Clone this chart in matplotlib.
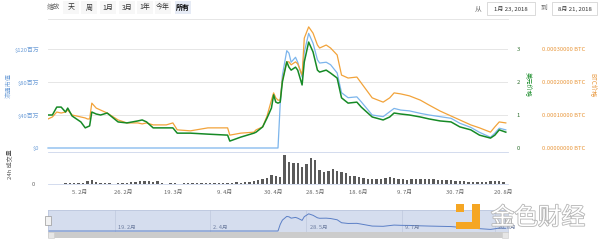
import matplotlib.pyplot as plt
import matplotlib.patheffects as pe
from matplotlib.patches import Rectangle

plt.rcParams['font.family'] = ['Noto Sans CJK SC', 'DejaVu Sans']

# ---- data ----
# day number counted from 23 Jan 2018
DAYS = [0, 2, 4, 6, 8, 9, 11, 15, 17, 18, 19, 20, 22, 24, 27, 32, 36, 41, 43, 45,
        48, 54, 57, 59, 65, 73, 82, 83, 88, 94, 95, 98, 100, 102, 103, 104, 105, 106, 107, 109,
        110, 111, 113, 114, 116, 117, 119, 121, 123, 124, 127, 129, 132, 134, 137, 141, 143, 148, 153, 156,
        158, 161, 165, 170, 174, 179, 184, 188, 193, 197, 202, 204, 206, 209]

USD_PRICE = [1.00, 1.00, 1.24, 1.24, 1.09, 1.21, 0.97, 0.79, 0.61, 0.64, 0.67, 1.09, 1.03, 1.00, 1.06, 0.79, 0.76, 0.82, 0.85, 0.79,
             0.61, 0.61, 0.61, 0.45, 0.45, 0.42, 0.39, 0.21, 0.33, 0.45, 0.48, 0.64, 0.91, 1.21, 1.61, 1.39, 1.36, 1.39, 2.00, 2.61,
             2.45, 2.36, 2.45, 2.36, 1.91, 2.61, 3.21, 2.91, 2.36, 2.30, 2.36, 2.27, 2.12, 1.52, 1.36, 1.39, 1.24, 0.94, 0.85, 0.94,
             1.06, 1.03, 1.00, 0.94, 0.88, 0.82, 0.79, 0.64, 0.55, 0.39, 0.30, 0.39, 0.55, 0.48]

BTC_PRICE = [0.000088, 0.000094, 0.000109, 0.000106, 0.000109, 0.000115, 0.000100, 0.000094, 0.000091, 0.000088,
             0.000088, 0.000136, 0.000121, 0.000115, 0.000106, 0.000085, 0.000076, 0.000076, 0.000073, 0.000076,
             0.000070, 0.000070, 0.000076, 0.000055, 0.000052, 0.000061, 0.000061, 0.000039, 0.000045, 0.000048,
             0.000055, 0.000064, 0.000097, 0.000145, 0.000167, 0.000152, 0.000145, 0.000145, 0.000206, 0.000261,
             0.000261, 0.000252, 0.000261, 0.000255, 0.000221, 0.000333, 0.000367, 0.000348, 0.000312, 0.000303,
             0.000312, 0.000303, 0.000282, 0.000221, 0.000212, 0.000215, 0.000197, 0.000152, 0.000139, 0.000152,
             0.000167, 0.000164, 0.000158, 0.000145, 0.000130, 0.000112, 0.000097, 0.000085, 0.000070, 0.000061,
             0.000048, 0.000064, 0.000079, 0.000076]

# 流通市值, 百万美元
MCAP = [0] * 37 + [53, 88, 118, 115, 104, 110, 104, 86, 116, 139, 127, 107, 103, 104, 101, 91, 67, 61, 62, 56,
                   40, 38, 44, 48, 46, 45, 42, 40, 38, 36, 30, 25, 19, 13, 18, 24, 22]

VOL_DAYS = list(range(0, 209, 2))
VOLUME = [0.5, 0.5, 0.3, 0.5, 0.8, 1, 1, 1.5, 1, 3,
          4, 2, 1.5, 1, 1, 0.5, 1, 1, 1.5, 2,
          2.5, 3.5, 3, 3, 2.5, 3, 1.5, 0.5, 1, 1,
          0.5, 1, 1, 1, 1, 1, 1, 1, 1, 1,
          1, 1, 1.5, 2, 1.5, 2, 2.5, 3, 4, 5,
          6, 9, 8, 7, 29, 22, 21, 21, 17, 20,
          26, 24, 14, 12, 13, 15, 13, 12, 11, 8,
          8, 7, 6, 5, 5, 5, 5, 6, 7, 6,
          5, 5, 4, 5, 5, 5, 5, 5, 5, 4,
          4, 4, 4, 3, 3, 3, 2.5, 2.5, 2, 2,
          2, 3, 3.5, 3, 2]

MCAP_TICKS = [0, 40, 80, 120]
MCAP_LABELS = ['$0', '$40百万', '$80百万', '$120百万']
USD_TICKS = [0, 1, 2, 3]
BTC_TICKS = [0, 0.0001, 0.0002, 0.0003]
BTC_LABELS = ['0.00000000 BTC', '0.00010000 BTC', '0.00020000 BTC', '0.00030000 BTC']
DATE_TICKS = [14.6, 34.2, 57.1, 80.8, 102.7, 121.9, 141.5, 163.0, 185.8, 207.7]
DATE_LABELS = ['5. 2月', '26. 2月', '19. 3月', '9. 4月', '30. 4月', '28. 5月', '18. 6月', '9. 7月', '30. 7月', '20. 8月']
NAV_TICKS = [30.6, 74.0, 118.0, 161.6, 204.0]
NAV_LABELS = ['19. 2月', '2. 4月', '28. 5月', '9. 7月', '20. 8月']
BUTTONS = ['天', '周', '1月', '3月', '1年', '今年', '所有']

BLUE = '#7cb5ec'
GREEN = '#168a26'
ORANGE = '#f2a33a'
GRID = '#e6e6e6'

W, H = 600, 242
fig = plt.figure(figsize=(6, 2.42), dpi=100)


def fx(px):
    return px / W


def fy(py):
    return 1 - py / H


# ---- main price panel ----
ax = fig.add_axes([fx(48), fy(148), fx(460), (148 - 19) / H])
ax.set_xlim(0, 210)
ax.set_ylim(0, 156.4)
ax.plot(DAYS, MCAP, color=BLUE, lw=0.9, clip_on=False, zorder=3)
ax.set_yticks(MCAP_TICKS)
ax.set_yticklabels(MCAP_LABELS)
ax.tick_params(axis='y', length=0, pad=6, labelsize=4.2, colors='#6f9fd8')
ax.set_xticks([])
for t in MCAP_TICKS[1:]:
    ax.axhline(t, color=GRID, lw=0.7, zorder=0)
for s in ['left', 'right', 'bottom']:
    ax.spines[s].set_visible(False)
ax.spines['top'].set_color(GRID)
ax.spines['top'].set_linewidth(0.7)

ax_btc = ax.twinx()
ax_btc.set_ylim(0, 3.909e-4)
ax_btc.plot(DAYS, BTC_PRICE, color=ORANGE, lw=0.9, zorder=3)
ax_btc.set_yticks(BTC_TICKS)
ax_btc.set_yticklabels(BTC_LABELS)
ax_btc.tick_params(axis='y', length=0, pad=24.5, labelsize=4.2, colors='#e8963a')
for s in ax_btc.spines.values():
    s.set_visible(False)

ax_usd = ax.twinx()
ax_usd.set_ylim(0, 3.909)
ax_usd.plot(DAYS, USD_PRICE, color=GREEN, lw=1.1, zorder=3)
ax_usd.set_yticks(USD_TICKS)
ax_usd.tick_params(axis='y', length=0, pad=6, labelsize=4.2, colors='#2d6e2d')
for s in ax_usd.spines.values():
    s.set_visible(False)

fig.text(fx(9), fy(85), '流通市值', rotation=90, ha='center', va='center', fontsize=4.5, color='#6f9fd8')
fig.text(fx(527), fy(85), '美元价格', rotation=270, ha='center', va='center', fontsize=4.5, color=GREEN)
fig.text(fx(592), fy(85), 'BTC价格', rotation=270, ha='center', va='center', fontsize=4.5, color='#e8963a')

# ---- volume panel ----
vax = fig.add_axes([fx(48), fy(184), fx(460), 32 / H])
vax.bar(VOL_DAYS, VOLUME, width=1.1, color='#5a5a5a', linewidth=0)
vax.set_xlim(0, 210)
vax.set_ylim(0, 32)
vax.set_yticks([0])
vax.tick_params(axis='y', length=0, pad=9, labelsize=4.2, colors='#666666')
vax.set_xticks(DATE_TICKS)
vax.set_xticklabels(DATE_LABELS)
vax.tick_params(axis='x', length=0, pad=4, labelsize=4.2, colors='#666666')
for s in ['left', 'right']:
    vax.spines[s].set_visible(False)
for s in ['top', 'bottom']:
    vax.spines[s].set_color('#ccd6eb')
    vax.spines[s].set_linewidth(0.6)
fig.text(fx(9), fy(164), '24h 成交量', rotation=90, ha='center', va='center', fontsize=4.3, color='#555555')

# ---- navigator ----
nax = fig.add_axes([fx(48), fy(232), fx(460), 22 / H])
nax.set_facecolor('#d5ddee')
nax.plot(DAYS, MCAP, color='#5b7fc6', lw=0.7)
nax.set_xlim(0, 210)
nax.set_ylim(-8, 170)
nax.set_xticks([])
nax.set_yticks([])
for t, lab in zip(NAV_TICKS, NAV_LABELS):
    nax.axvline(t, color='#c2cce0', lw=0.6, zorder=0)
    nax.text(t + 1.5, 30, lab, fontsize=4, color='#6b7b9e', va='center', ha='left')
for s in nax.spines.values():
    s.set_color('#b8c3da')
    s.set_linewidth(0.5)

# handles + scrollbar
for hx in (48, 508):
    fig.patches.append(Rectangle((fx(hx - 3), fy(225)), fx(6), 9 / H, transform=fig.transFigure,
                                 facecolor='#f2f2f2', edgecolor='#999999', lw=0.5))
fig.patches.append(Rectangle((fx(48), fy(238)), fx(460), 6 / H, transform=fig.transFigure,
                             facecolor='#cccccc', edgecolor='none'))
for bx in (48, 502):
    fig.patches.append(Rectangle((fx(bx), fy(238)), fx(6), 6 / H, transform=fig.transFigure,
                                 facecolor='#e6e6e6', edgecolor='#cccccc', lw=0.4))

# ---- range selector buttons ----
fig.text(fx(53), fy(7), '缩放', ha='center', va='center', fontsize=4.8, color='#666666')
btn_x = [71, 89, 108, 127, 145, 163, 183]
for bx, lab in zip(btn_x, BUTTONS):
    sel = lab == '所有'
    fig.patches.append(Rectangle((fx(bx - 8), fy(14)), fx(16), 13 / H, transform=fig.transFigure,
                                 facecolor='#e6ebf5' if sel else '#f7f7f7', edgecolor='none'))
    fig.text(fx(bx), fy(7.5), lab, ha='center', va='center', fontsize=5,
             color='#000000' if sel else '#333333', fontweight='bold' if sel else 'normal')

fig.text(fx(478), fy(8), '从', ha='center', va='center', fontsize=4.8, color='#666666')
fig.text(fx(544), fy(8), '到', ha='center', va='center', fontsize=4.8, color='#666666')
for x0, x1, lab in [(487, 535, '1月 23, 2018'), (552, 597, '8月 21, 2018')]:
    fig.patches.append(Rectangle((fx(x0), fy(15)), fx(x1 - x0), 13 / H, transform=fig.transFigure,
                                 facecolor='white', edgecolor='#cccccc', lw=0.5))
    fig.text(fx((x0 + x1) / 2), fy(8.5), lab, ha='center', va='center', fontsize=4.3, color='#333333')

# ---- watermark ----
LOGO = '#f5a623'
fig.patches.append(Rectangle((fx(456), fy(212)), fx(8), 8 / H, transform=fig.transFigure, facecolor=LOGO, edgecolor='none'))
fig.patches.append(Rectangle((fx(472), fy(229)), fx(8), 25 / H, transform=fig.transFigure, facecolor=LOGO, edgecolor='none'))
fig.patches.append(Rectangle((fx(456), fy(229)), fx(24), 7 / H, transform=fig.transFigure, facecolor=LOGO, edgecolor='none'))
fig.text(fx(538), fy(218), '金色财经', ha='center', va='center', fontsize=17, color='white',
         path_effects=[pe.withStroke(linewidth=1.2, foreground='#b5b5b5')])

fig.savefig('out.png', dpi=100)
